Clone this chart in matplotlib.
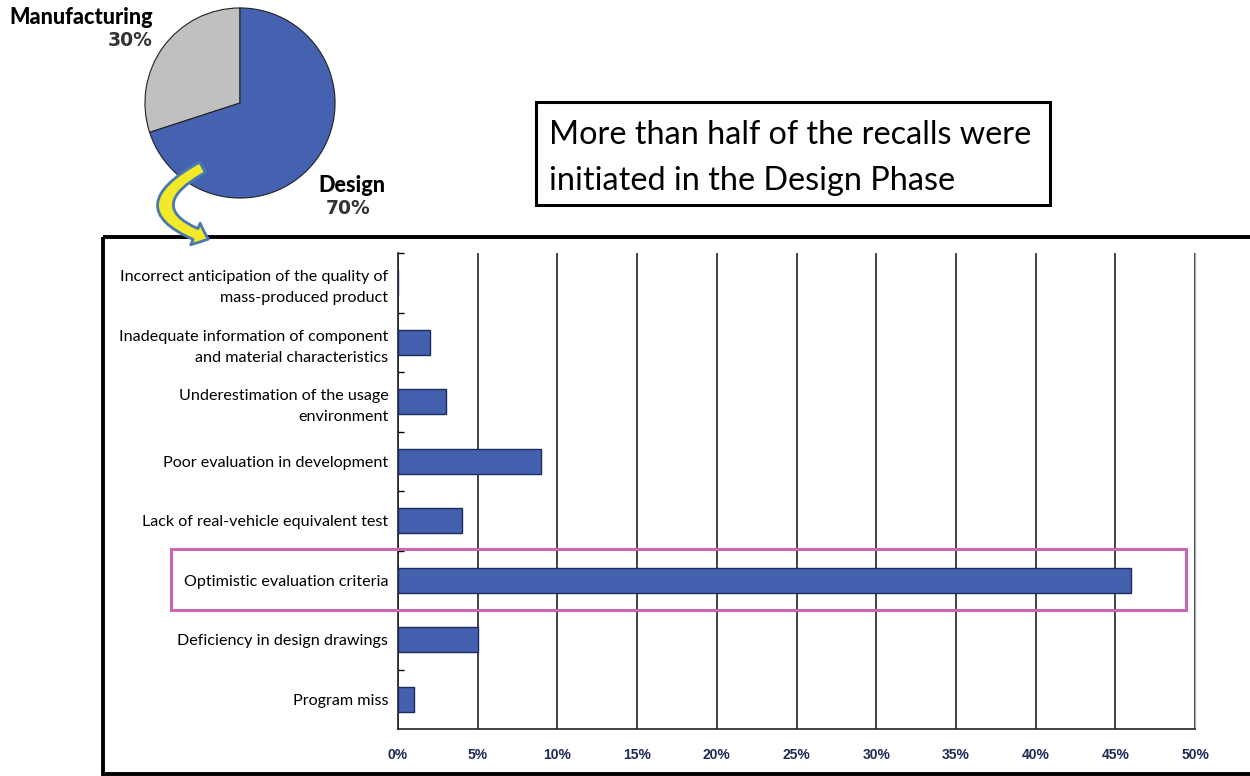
import matplotlib.pyplot as plt
from matplotlib.patches import Rectangle, FancyArrowPatch
from matplotlib.ticker import FixedLocator, PercentFormatter

# data
pie_labels = ["Manufacturing", "Design"]
pie_values = [30, 70]
pie_colors = ["#c0c0c0", "#4462b0"]

causes = [
    "Incorrect anticipation of the quality of\nmass-produced product",
    "Inadequate information of component\nand material characteristics",
    "Underestimation of the usage\nenvironment",
    "Poor evaluation in development",
    "Lack of real-vehicle equivalent test",
    "Optimistic evaluation criteria",
    "Deficiency in design drawings",
    "Program miss",
]
shares = [0, 2, 3, 9, 4, 46, 5, 1]
highlight = "Optimistic evaluation criteria"
xticks = [0, 5, 10, 15, 20, 25, 30, 35, 40, 45, 50]

W, H = 1250, 776
fig = plt.figure(figsize=(W / 100, H / 100), dpi=100)

# overlay in pixel coords for frame, text box, labels, arrow
ov = fig.add_axes([0, 0, 1, 1], zorder=0)
ov.set_xlim(0, W)
ov.set_ylim(H, 0)
ov.axis("off")

ov.add_patch(Rectangle((103, 237), 1200, 537, fill=False, ec="black", lw=2.8))
ov.add_patch(Rectangle((536, 102), 514, 103, fill=False, ec="black", lw=2.2))
ov.text(549, 135, "More than half of the recalls were", fontsize=23.3,
        family="Lato", va="center", ha="left")
ov.text(549, 181, "initiated in the Design Phase", fontsize=23.3,
        family="Lato", va="center", ha="left")

# pie labels
ov.text(153, 18, pie_labels[0], fontsize=15.6, weight="black", family="Lato",
        ha="right", va="center")
ov.text(153, 41, f"{pie_values[0]}%", fontsize=13.5, weight="bold",
        family="DejaVu Sans", ha="right", va="center", color="#333333")
ov.text(318, 186, pie_labels[1], fontsize=15.6, weight="black", family="Lato",
        ha="left", va="center")
ov.text(348, 209, f"{pie_values[1]}%", fontsize=13.5, weight="bold",
        family="DejaVu Sans", ha="center", va="center", color="#333333")

# pie
pax = fig.add_axes([144 / W, (H - 199) / H, 192 / W, 192 / H], zorder=1)
pax.pie(pie_values, colors=pie_colors, startangle=90, counterclock=True,
        wedgeprops=dict(edgecolor="#222222", linewidth=0.8))
pax.set_xlim(-1.01, 1.01)
pax.set_ylim(-1.01, 1.01)

# bar chart
ax = fig.add_axes([398 / W, 47 / H, 797 / W, 476 / H], zorder=2)
ax.set_facecolor("none")
ypos = list(range(len(causes)))
ax.barh(ypos, shares, height=0.42, color="#4361ae", edgecolor="#1c2a5c",
        linewidth=1, zorder=3)
ax.set_xlim(0, 50)
ax.set_ylim(len(causes) - 0.5, -0.5)
ax.xaxis.set_major_locator(FixedLocator(xticks))
ax.xaxis.set_major_formatter(PercentFormatter(decimals=0))
ax.grid(axis="x", color="#222222", lw=1.2, zorder=1)
ax.tick_params(axis="x", length=0, pad=14, labelsize=10, labelcolor="#1f2b55")
for lab in ax.get_xticklabels():
    lab.set_family("Liberation Sans")
    lab.set_weight("bold")
ax.set_yticks(ypos)
ax.set_yticklabels(causes, family="Lato", fontsize=11.6, linespacing=1.65)
ax.set_yticks([y + 0.5 for y in ypos[:-1]] + [-0.5], minor=True)
ax.tick_params(axis="y", which="major", length=0, pad=7)
ax.tick_params(axis="y", which="minor", direction="in", length=4, width=1)
ax.spines["top"].set_visible(False)
ax.spines["right"].set_color("#aaaaaa")
ax.spines["left"].set_color("#222222")
ax.spines["bottom"].set_color("#222222")
ax.spines["left"].set_linewidth(1.2)
ax.spines["bottom"].set_linewidth(1.2)

# highlight box around the key cause
hi = causes.index(highlight)
ax.add_patch(Rectangle((-0.285, hi - 0.52), 1.274, 1.02,
                       transform=ax.get_yaxis_transform(), fill=False,
                       ec="#cc66b0", lw=2.2, clip_on=False, zorder=5))

# curved arrow from pie to bar chart
arrow = FancyArrowPatch((205, 166), (211, 240),
                        connectionstyle="arc3,rad=1.15",
                        arrowstyle="simple,head_width=17,head_length=10,tail_width=8.5",
                        fc="#f2ea28", ec="#4a78b0", lw=2, zorder=10)
ov.add_patch(arrow)
ov.set_zorder(3)
ov.patch.set_visible(False)

fig.savefig("out.png", dpi=100)
